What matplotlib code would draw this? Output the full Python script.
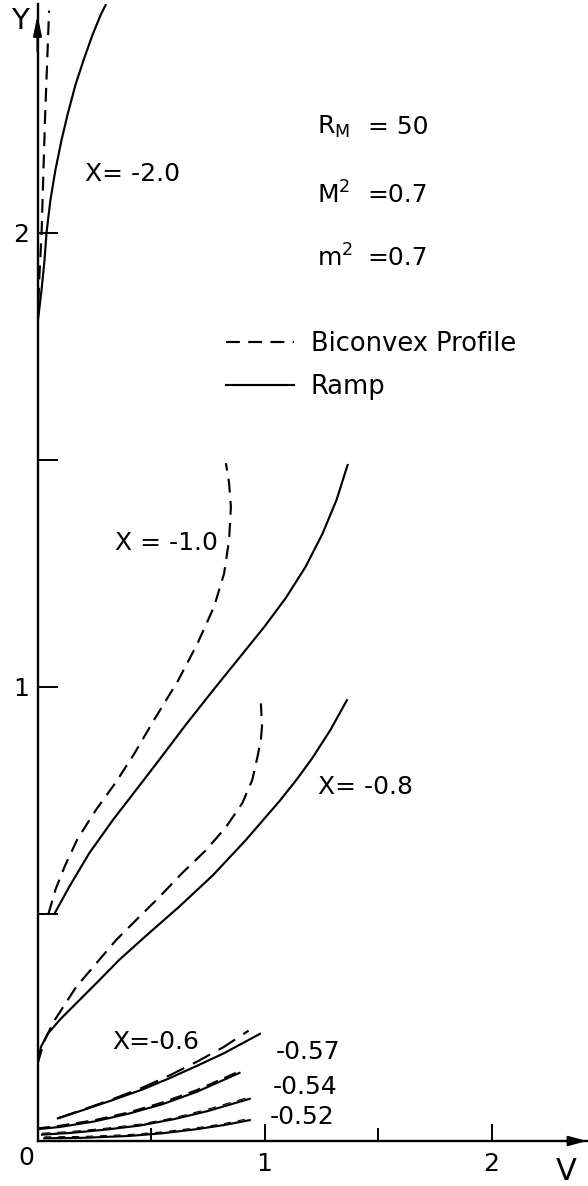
import matplotlib
matplotlib.use("Agg")
from matplotlib import pyplot as plt

plt.rcParams["font.family"] = ["DejaVu Sans"]
plt.rcParams["lines.scale_dashes"] = False

# velocity profiles V(Y) at several stations X
# X = -2.0
v_ramp_20 = [0.0, 0.018, 0.031, 0.040, 0.057, 0.079, 0.106, 0.132, 0.167, 0.203,
             0.242, 0.278, 0.30]
y_ramp_20 = [1.80, 1.875, 1.941, 2.002, 2.073, 2.139, 2.205, 2.26, 2.326, 2.381,
             2.436, 2.48, 2.502]
v_bicx_20 = [0.0, 0.008, 0.018, 0.033, 0.051]
y_bicx_20 = [1.80, 1.90, 2.0, 2.25, 2.49]

# X = -1.0
v_ramp_10 = [0.074, 0.14, 0.228, 0.332, 0.434, 0.54, 0.655, 0.785, 0.895, 1.0,
             1.095, 1.18, 1.255, 1.318, 1.366]
y_ramp_10 = [0.50, 0.56, 0.634, 0.707, 0.773, 0.842, 0.918, 1.0, 1.068, 1.133,
             1.197, 1.264, 1.337, 1.413, 1.489]
v_bicx_10 = [0.048, 0.08, 0.12, 0.176, 0.257, 0.345, 0.425, 0.514, 0.617, 0.705,
             0.778, 0.822, 0.844, 0.852, 0.844, 0.83]
y_bicx_10 = [0.50, 0.555, 0.605, 0.665, 0.729, 0.79, 0.852, 0.928, 1.012, 1.096,
             1.177, 1.25, 1.324, 1.397, 1.449, 1.493]

# X = -0.8
v_ramp_08 = [0.0, 0.015, 0.045, 0.10, 0.18, 0.27, 0.36, 0.478, 0.624, 0.772,
             0.918, 1.065, 1.14, 1.21, 1.29, 1.363]
y_ramp_08 = [0.17, 0.207, 0.236, 0.268, 0.308, 0.353, 0.399, 0.452, 0.516, 0.585,
             0.663, 0.748, 0.795, 0.843, 0.905, 0.971]
v_bicx_08 = [0.0, 0.03, 0.07, 0.17, 0.272, 0.347, 0.435, 0.536, 0.637, 0.743,
             0.831, 0.902, 0.946, 0.969, 0.984, 0.989, 0.984]
y_bicx_08 = [0.17, 0.22, 0.262, 0.339, 0.399, 0.443, 0.487, 0.537, 0.59, 0.641,
             0.692, 0.744, 0.795, 0.846, 0.884, 0.913, 0.964]

# X = -0.6
v_ramp_06 = [0.09, 0.2, 0.33, 0.46, 0.58, 0.70, 0.82, 0.98]
y_ramp_06 = [0.05, 0.068, 0.09, 0.113, 0.138, 0.165, 0.193, 0.236]
v_bicx_06 = [0.09, 0.2, 0.33, 0.46, 0.58, 0.70, 0.82, 0.93]
y_bicx_06 = [0.05, 0.069, 0.092, 0.117, 0.144, 0.174, 0.207, 0.243]

# X = -0.57
v_ramp_057 = [0.0, 0.1, 0.25, 0.4, 0.55, 0.7, 0.89]
y_ramp_057 = [0.026, 0.031, 0.043, 0.06, 0.081, 0.108, 0.15]
v_bicx_057 = [0.0, 0.1, 0.25, 0.4, 0.55, 0.7, 0.89]
y_bicx_057 = [0.028, 0.034, 0.046, 0.063, 0.085, 0.112, 0.154]

# X = -0.54
v_ramp_054 = [0.02, 0.15, 0.3, 0.45, 0.6, 0.75, 0.935]
y_ramp_054 = [0.014, 0.018, 0.025, 0.034, 0.048, 0.066, 0.093]
v_bicx_054 = [0.02, 0.15, 0.3, 0.45, 0.6, 0.75, 0.935]
y_bicx_054 = [0.017, 0.021, 0.028, 0.037, 0.051, 0.07, 0.097]

# X = -0.52
v_ramp_052 = [0.03, 0.2, 0.4, 0.55, 0.7, 0.82, 0.935]
y_ramp_052 = [0.006, 0.007, 0.011, 0.017, 0.026, 0.035, 0.046]
v_bicx_052 = [0.03, 0.2, 0.4, 0.55, 0.7, 0.82, 0.935]
y_bicx_052 = [0.009, 0.010, 0.014, 0.020, 0.029, 0.038, 0.050]

param_names = [r"R$_\mathregular{M}$", r"M$^\mathregular{2}$", r"m$^\mathregular{2}$"]
param_values = ["= 50", "=0.7", "=0.7"]

W, H = 588, 1186
fig = plt.figure(figsize=(W / 100, H / 100), dpi=100)
x0, y0 = 37.5, 1141          # origin in pixels
sx, sy = 227.0, 454.0        # pixels per unit
xmax, ymax = (W - x0) / sx, (y0 - 4) / sy
ax = fig.add_axes([x0 / W, (H - y0) / H, (W - x0) / W, (y0 - 4) / H])
ax.set_xlim(0, xmax)
ax.set_ylim(0, ymax)

for s in ["top", "right"]:
    ax.spines[s].set_visible(False)
for s in ["left", "bottom"]:
    ax.spines[s].set_linewidth(1.7)

lw = 1.55
k = "black"
ax.plot(v_ramp_20, y_ramp_20, color=k, lw=lw)
ax.plot(v_bicx_20, y_bicx_20, color=k, lw=lw, dashes=(10, 6))
solid, = ax.plot(v_ramp_10, y_ramp_10, color=k, lw=lw)
dashed, = ax.plot(v_bicx_10, y_bicx_10, color=k, lw=lw, dashes=(10, 6))
ax.plot(v_ramp_08, y_ramp_08, color=k, lw=lw)
ax.plot(v_bicx_08, y_bicx_08, color=k, lw=lw, dashes=(11, 6))
ax.plot(v_ramp_06, y_ramp_06, color=k, lw=lw)
ax.plot(v_bicx_06, y_bicx_06, color=k, lw=lw, dashes=(14, 7))
ax.plot(v_ramp_057, y_ramp_057, color=k, lw=lw)
ax.plot(v_bicx_057, y_bicx_057, color=k, lw=1.3, dashes=(9, 5))
ax.plot(v_ramp_054, y_ramp_054, color=k, lw=lw)
ax.plot(v_bicx_054, y_bicx_054, color=k, lw=0.8, dashes=(6, 5))
ax.plot(v_ramp_052, y_ramp_052, color=k, lw=lw)
ax.plot(v_bicx_052, y_bicx_052, color=k, lw=0.8, dashes=(5, 5))

# ticks pointing into the plot
ax.set_xticks([1, 2], ["1", "2"])
ax.set_xticks([0.5, 1.5], minor=True)
ax.set_yticks([1, 2], ["1", "2"])
ax.set_yticks([0.5, 1.5], minor=True)
ax.tick_params(axis="x", which="both", direction="in", length=9.5, width=1.4,
               labelsize=18, pad=8)
ax.tick_params(axis="x", which="major", length=12)
ax.tick_params(axis="y", which="both", direction="in", length=14.5, width=1.4,
               labelsize=18, pad=6)

# axis arrows and names
ax.annotate("", xy=(0, 2.48), xytext=(0, 2.40), annotation_clip=False,
            arrowprops=dict(arrowstyle="-|>,head_length=1.2,head_width=0.25",
                            color=k, lw=1.5, shrinkA=0, shrinkB=0))
ax.annotate("", xy=(2.42, 0), xytext=(2.30, 0), annotation_clip=False,
            arrowprops=dict(arrowstyle="-|>,head_length=1.1,head_width=0.3",
                            color=k, lw=1.5, shrinkA=0, shrinkB=0))
ax.text(-0.077, 2.467, "Y", fontsize=21, ha="center", va="center", clip_on=False)
ax.text(2.33, -0.068, "V", fontsize=22, ha="center", va="center", clip_on=False)
ax.text(-0.05, -0.038, "0", fontsize=18, ha="center", va="center", clip_on=False)

fs = 18
ax.text(0.21, 2.13, "X= -2.0", fontsize=fs, va="center")
ax.text(0.34, 1.317, "X = -1.0", fontsize=fs, va="center")
ax.text(1.235, 0.78, "X= -0.8", fontsize=fs, va="center")
ax.text(0.33, 0.218, "X=-0.6", fontsize=fs, va="center")
ax.text(1.05, 0.196, "-0.57", fontsize=fs, va="center")
ax.text(1.035, 0.119, "-0.54", fontsize=fs, va="center")
ax.text(1.025, 0.052, "-0.52", fontsize=fs, va="center")

param_y = [2.233, 2.084, 1.945]
for name, val, py in zip(param_names, param_values, param_y):
    ax.text(1.231, py, name, fontsize=18, va="center")
    ax.text(1.455, py, val, fontsize=18, va="center")

solid.set_label("Ramp")
dashed.set_label("Biconvex Profile")
ax.legend(handles=[dashed, solid], loc="upper left",
          bbox_to_anchor=(0.83 / xmax, 1.785 / ymax),
          frameon=False, fontsize=18.5, handlelength=2.65, handletextpad=0.66,
          labelspacing=0.66, borderpad=0, borderaxespad=0)

fig.savefig("out.png", dpi=100)
